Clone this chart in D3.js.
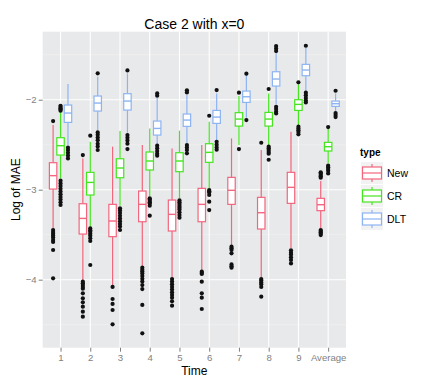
<!DOCTYPE html>
<html><head><meta charset="utf-8">
<script src="https://cdn.jsdelivr.net/npm/d3@7"></script>
<style>body{margin:0;background:#fff}svg{display:block;font-family:"Liberation Sans",Arial,sans-serif}</style>
</head><body><svg id="c" width="436" height="386"></svg>
<script>
const times = ["1","2","3","4","5","6","7","8","9","Average"];
const types = ["New","CR","DLT"];
const colors = ["#F2667E","#45E51F","#8DB4F2"];
const yTicks = [-4,-3,-2];
const yMinor = [-4.5,-3.5,-2.5,-1.5];

const newQ1  = [-2.993,-3.493,-3.522,-3.356,-3.459,-3.356,-3.163,-3.437,-3.152,-3.233];
const newMed = [-2.844,-3.319,-3.348,-3.163,-3.274,-3.163,-3.007,-3.256,-2.974,-3.167];
const newQ3  = [-2.700,-3.156,-3.163,-3.015,-3.115,-2.985,-2.863,-3.085,-2.807,-3.096];
const newLo  = [-3.430,-4.004,-4.059,-3.844,-3.978,-3.893,-3.615,-3.978,-3.652,-3.430];
const newHi  = [-2.281,-2.652,-2.522,-2.504,-2.541,-2.504,-2.430,-2.559,-2.356,-2.904];
const newOut = [
  [-2.237,-3.448,-3.47,-3.49,-3.51,-3.53,-3.56,-3.58,-3.67,-3.985],
  [-2.615,-4.022,-4.04,-4.06,-4.08,-4.1,-4.152,-4.207,-4.252,-4.3,-4.356,-4.411],
  [-4.081,-4.215,-4.27,-4.337,-4.496],
  [-3.867,-3.89,-3.91,-3.93,-3.96,-3.99,-4.02,-4.06,-4.104,-4.281,-4.596],
  [-3.993,-4.02,-4.05,-4.08,-4.11,-4.14,-4.17,-4.2,-4.24,-4.289],
  [-3.911,-3.925,-3.937,-4.022,-4.152,-4.2,-4.326],
  [-3.633,-3.65,-3.67,-3.707,-3.83,-3.85,-3.867],
  [-2.478,-3.993,-4.01,-4.03,-4.05,-4.081,-4.189],
  [-3.674,-3.7,-3.72,-3.75,-3.78,-3.819],
  [-2.807,-2.82,-2.837,-2.85,-2.867,-3.448,-3.46,-3.474,-3.49,-3.504]
];

const crQ1  = [-2.615,-3.059,-2.867,-2.781,-2.800,-2.696,-2.293,-2.293,-2.119,-2.570];
const crMed = [-2.511,-2.919,-2.759,-2.681,-2.681,-2.585,-2.215,-2.215,-2.052,-2.522];
const crQ3  = [-2.422,-2.807,-2.656,-2.581,-2.589,-2.489,-2.144,-2.141,-2.000,-2.474];
const crLo  = [-2.874,-3.411,-3.178,-3.074,-3.096,-2.985,-2.504,-2.504,-2.281,-2.707];
const crHi  = [-2.133,-2.467,-2.348,-2.319,-2.344,-2.244,-1.959,-1.930,-1.830,-2.326];
const crOut = [
  [-2.067,-2.08,-2.096,-2.11,-2.122,-2.9,-2.93,-2.96,-2.99,-3.02,-3.05,-3.08,-3.11,-3.14,-3.17],
  [-2.4,-3.43,-3.45,-3.467,-3.49,-3.511,-3.54,-3.57,-3.837],
  [-3.207,-3.23,-3.26,-3.29,-3.32,-3.35,-3.38,-3.41,-3.448],
  [-3.096,-3.11,-3.126,-3.14,-3.152,-3.178,-3.289],
  [-3.119,-3.14,-3.16,-3.18,-3.2,-3.22,-3.25,-3.28,-3.311],
  [-2.178,-3.004,-3.017,-3.03,-3.059,-3.133,-3.226],
  [-1.922,-2.548],
  [-1.881,-2.522,-2.54,-2.56,-2.58,-2.6,-2.667],
  [-1.807,-2.3,-2.32,-2.34,-2.36,-2.385],
  [-2.304,-2.733,-2.75,-2.77,-2.79,-2.819]
];

const dltQ1  = [-2.252,-2.126,-2.115,-2.393,-2.296,-2.263,-2.030,-1.848,-1.733,-2.074];
const dltMed = [-2.148,-2.037,-2.015,-2.319,-2.226,-2.193,-1.967,-1.770,-1.670,-2.044];
const dltQ3  = [-2.059,-1.959,-1.933,-2.237,-2.159,-2.119,-1.904,-1.689,-1.607,-2.015];
const dltLo  = [-2.504,-2.337,-2.367,-2.496,-2.485,-2.448,-2.200,-2.052,-1.904,-2.133];
const dltHi  = [-1.826,-1.744,-1.707,-1.978,-1.948,-1.930,-1.726,-1.485,-1.422,-1.930];
const dltOut = [
  [-2.533,-2.56,-2.59,-2.62,-2.652],
  [-1.707,-2.363,-2.39,-2.42,-2.45,-2.49,-2.52,-2.559],
  [-1.674,-2.393,-2.422,-2.452,-2.489,-2.548],
  [-1.93,-1.956,-2.511,-2.54,-2.57,-2.6,-2.622],
  [-1.896,-1.919,-2.504,-2.53,-2.56,-2.596],
  [-1.893,-2.467,-2.5,-2.53,-2.556],
  [-1.711,-2.226],
  [-1.404,-1.43,-1.459,-2.078,-2.104,-2.133,-2.152],
  [-1.4,-1.922,-1.95,-1.98,-2.01,-2.03],
  [-1.9,-2.148,-2.17,-2.193]
];

const stats = {
  New: {q1:newQ1, med:newMed, q3:newQ3, lo:newLo, hi:newHi, out:newOut},
  CR:  {q1:crQ1, med:crMed, q3:crQ3, lo:crLo, hi:crHi, out:crOut},
  DLT: {q1:dltQ1, med:dltMed, q3:dltQ3, lo:dltLo, hi:dltHi, out:dltOut}
};
const boxes = [];
types.forEach((t,ti)=>times.forEach((tm,i)=>{
  const s = stats[t];
  boxes.push({type:t, ti, time:tm, q1:s.q1[i], med:s.med[i], q3:s.q3[i], lo:s.lo[i], hi:s.hi[i], out:s.out[i]});
}));

const svg = d3.select("#c");
const P = {l:42.7, r:346, t:31.7, b:347.7};
const x = d3.scalePoint().domain(times).range([P.l,P.r]).padding(0.6);
const step = x.step();
const dx = d3.scaleBand().domain(types).range([-0.375*step, 0.375*step]);
const y = d3.scaleLinear().domain([-4.756,-1.244]).range([P.b,P.t]);
const color = d3.scaleOrdinal().domain(types).range(colors);

svg.append("rect").attr("x",P.l).attr("y",P.t).attr("width",P.r-P.l).attr("height",P.b-P.t).attr("fill","#E8E9EA");
svg.selectAll(".minor").data(yMinor).join("line").attr("x1",P.l).attr("x2",P.r)
  .attr("y1",d=>y(d)).attr("y2",d=>y(d)).attr("stroke","#F3F3F3").attr("stroke-width",0.6);
svg.selectAll(".gy").data(yTicks).join("line").attr("x1",P.l).attr("x2",P.r)
  .attr("y1",d=>y(d)).attr("y2",d=>y(d)).attr("stroke","#fff").attr("stroke-width",1.1);
svg.selectAll(".gx").data(times).join("line").attr("y1",P.t).attr("y2",P.b)
  .attr("x1",d=>x(d)).attr("x2",d=>x(d)).attr("stroke","#fff").attr("stroke-width",1.1);

const bw = dx.bandwidth();
const g = svg.append("g");
const bg = g.selectAll("g.box").data(boxes).join("g")
  .attr("transform",d=>`translate(${x(d.time)+dx(d.type)+bw/2},0)`);
bg.append("line").attr("x1",0).attr("x2",0).attr("y1",d=>y(d.hi)).attr("y2",d=>y(d.q3))
  .attr("stroke",d=>color(d.type)).attr("stroke-width",1.2);
bg.append("line").attr("x1",0).attr("x2",0).attr("y1",d=>y(d.q1)).attr("y2",d=>y(d.lo))
  .attr("stroke",d=>color(d.type)).attr("stroke-width",1.2);
bg.append("rect").attr("x",-bw/2).attr("width",bw).attr("y",d=>y(d.q3)).attr("height",d=>y(d.q1)-y(d.q3))
  .attr("fill","#fff").attr("stroke",d=>color(d.type)).attr("stroke-width",1.2);
bg.append("line").attr("x1",-bw/2).attr("x2",bw/2).attr("y1",d=>y(d.med)).attr("y2",d=>y(d.med))
  .attr("stroke",d=>color(d.type)).attr("stroke-width",1.4);
bg.selectAll("circle").data(d=>d.out).join("circle").attr("cx",0).attr("cy",v=>y(v)).attr("r",2.1).attr("fill","#111");

// axes
const yAxis = svg.append("g").attr("transform",`translate(${P.l},0)`)
  .call(d3.axisLeft(y).tickValues(yTicks).tickSize(4).tickPadding(2).tickFormat(d=>"\u2212"+Math.abs(d)));
const xAxis = svg.append("g").attr("transform",`translate(0,${P.b})`)
  .call(d3.axisBottom(x).tickSize(4).tickPadding(2));
[yAxis,xAxis].forEach(a=>{
  a.select(".domain").remove();
  a.selectAll(".tick line").attr("stroke","#7F7F7F").attr("stroke-width",1);
  a.selectAll(".tick text").attr("fill","#7F7F7F").attr("font-size","9.6px").attr("font-family","Liberation Sans, Arial, sans-serif");
});

svg.append("text").attr("x",(P.l+P.r)/2).attr("y",29).attr("text-anchor","middle").attr("font-size","14px").attr("fill","#000").text("Case 2 with x=0");
svg.append("text").attr("x",(P.l+P.r)/2).attr("y",375).attr("text-anchor","middle").attr("font-size","12px").attr("fill","#000").text("Time");
svg.append("text").attr("transform",`translate(20,${(P.t+P.b)/2}) rotate(-90)`).attr("text-anchor","middle").attr("font-size","12px").attr("fill","#000").text("Log of MAE");

// legend
const lg = svg.append("g");
lg.append("text").attr("x",360).attr("y",156).attr("font-size","10px").attr("font-weight","bold").text("type");
const li = lg.selectAll("g.k").data(types).join("g").attr("transform",(d,i)=>`translate(361,${162+i*23})`);
li.append("rect").attr("width",22).attr("height",22).attr("fill","#F2F2F2");
li.append("line").attr("x1",11).attr("x2",11).attr("y1",2).attr("y2",20).attr("stroke",d=>color(d)).attr("stroke-width",1.2);
li.append("rect").attr("x",1.5).attr("width",19).attr("y",5).attr("height",12).attr("fill","#fff").attr("stroke",d=>color(d)).attr("stroke-width",1.2);
li.append("line").attr("x1",1.5).attr("x2",20.5).attr("y1",11).attr("y2",11).attr("stroke",d=>color(d)).attr("stroke-width",1.2);
li.append("text").attr("x",26).attr("y",11).attr("dy","0.35em").attr("font-size","10.5px").text(d=>d);
</script></body></html>
